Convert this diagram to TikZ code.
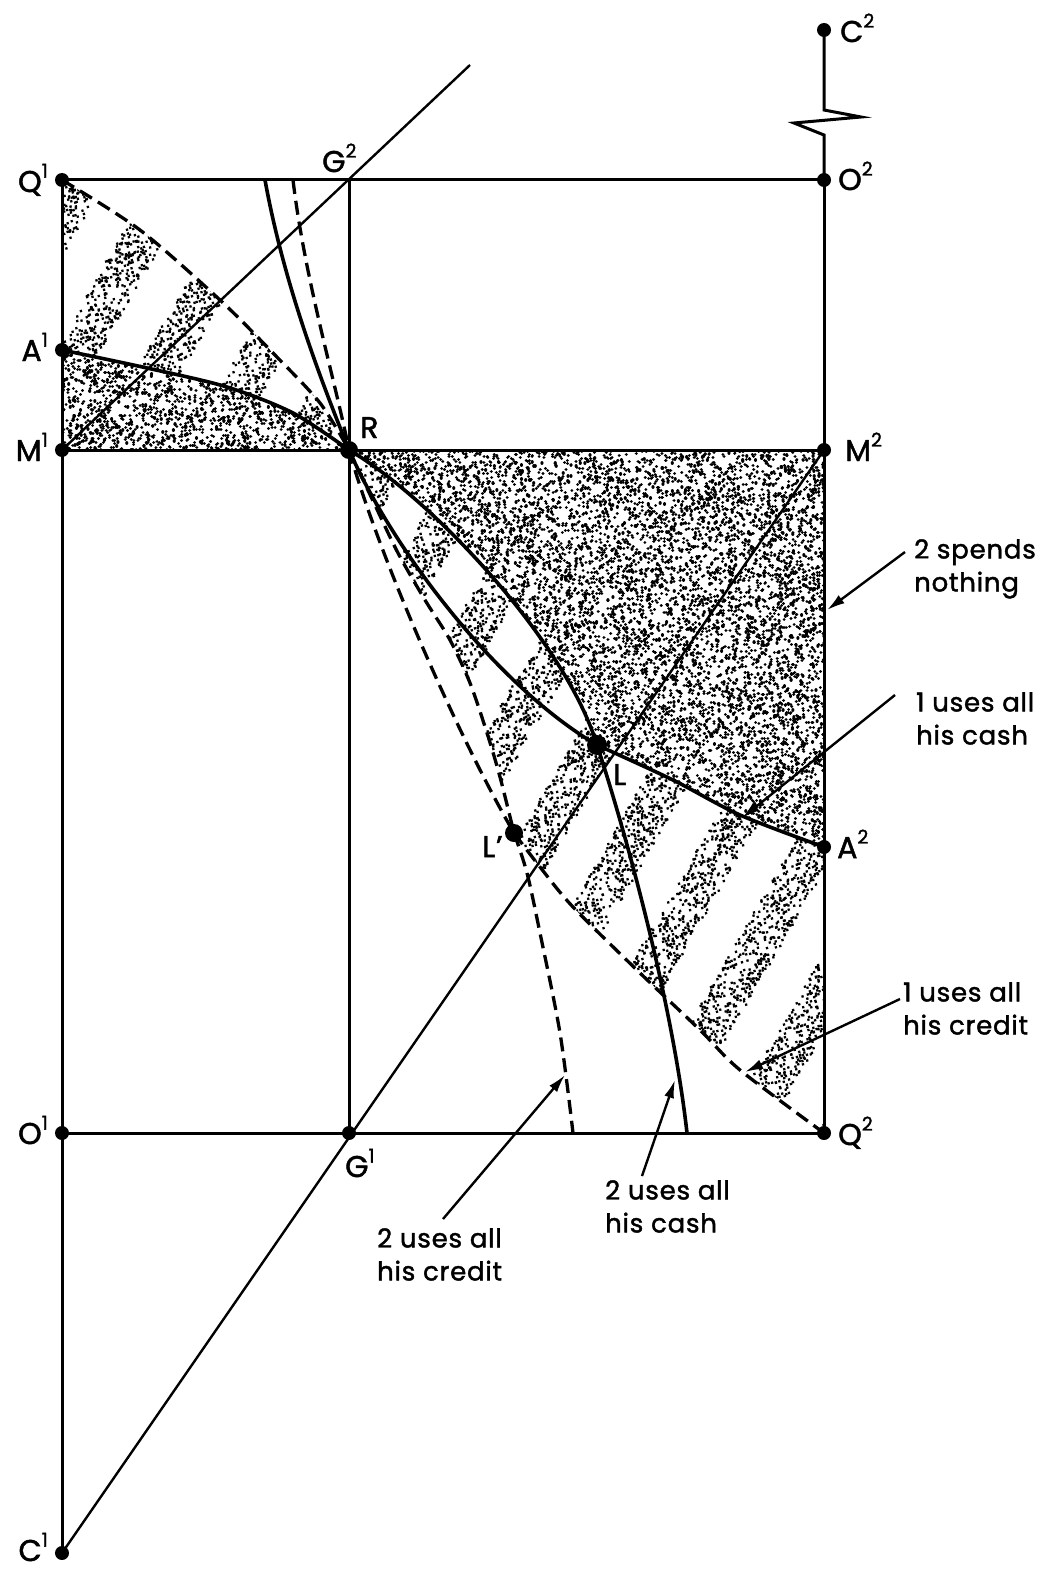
\documentclass[tikz,border=0pt]{standalone}
\usepackage{fontspec}
\setmainfont{Poppins}[FakeBold=1.6, LetterSpace=3]
\usetikzlibrary{arrows.meta}
\newcommand\up[1]{\raisebox{0.48em}{\fontsize{19}{19}\selectfont #1}}
% random dots in an axis-parallel rectangle (batches of 40)
\newcommand\stip[5]{\pgfmathtruncatemacro\nbatch{#5/40}%
  \foreach \j in {1,...,\nbatch}{\draw[dotty] \foreach \i in {1,...,40}{({#1+rnd*#3},{#2+rnd*#4}) -- ++(0.01,0)};}}
% random dots in the stripes, restricted to a box x0 x1 y0 y1
\newcommand\stripes[4]{%
  \begin{scope}[x={(0.5pt,0.866pt)}, y={(0.866pt,-0.5pt)}]
  \foreach \k in {0,...,15}{%
    \pgfmathsetmacro\cc{162+80.6*\k}%
    \pgfmathsetmacro\qa{max((#1-0.866*\cc)/0.5,(0.5*\cc-#4)/0.866)-34}%
    \pgfmathsetmacro\qb{min((#2-0.866*\cc)/0.5,(0.5*\cc-#3)/0.866)+34}%
    \pgfmathsetmacro\qw{\qb-\qa}%
    \pgfmathtruncatemacro\nb{max(0,\qw*0.0625)}%
    \ifnum\nb>0
      \foreach \j in {1,...,\nb}{\draw[dotty] \foreach \i in {1,...,40}{({\qa+rnd*\qw},{\cc-20+rnd*40}) -- ++(0.01,0)};}%
    \fi}
  \end{scope}}
\begin{document}
\begin{tikzpicture}[x=1pt,y=-1pt,
  box/.style={line width=3pt},
  diag/.style={line width=2.4pt},
  curve/.style={line width=3.6pt},
  dashcurve/.style={line width=3.3pt, dash pattern=on 14pt off 7pt},
  dotty/.style={line width=3.2pt, line cap=round},
  dot/.style={circle,fill,inner sep=0pt,minimum size=14pt},
  bigdot/.style={circle,fill,inner sep=0pt,minimum size=19pt},
  lab/.style={font=\fontsize{30}{32}\selectfont, inner sep=0pt},
  txt/.style={font=\fontsize{26}{33}\selectfont, align=left, inner sep=0pt, anchor=north west},
  ptr/.style={line width=2.4pt, -{Latex[length=18pt,width=10pt]}},
]
\fill[white] (0,0) rectangle (1047,1570);
\useasboundingbox (0,0) rectangle (1047,1570);
\pgfmathsetseed{4711}

% key points
\coordinate (pQ1) at (62,180);
\coordinate (pO2) at (824,180);
\coordinate (pG2) at (349,180);
\coordinate (pM1) at (62,450);
\coordinate (pR) at (349,450);
\coordinate (pM2) at (824,450);
\coordinate (pO1) at (62,1133);
\coordinate (pG1) at (349,1133);
\coordinate (pQ2) at (824,1133);
\coordinate (pC1) at (62,1553);
\coordinate (pC2) at (824,30);
\coordinate (pA1) at (62,350);
\coordinate (pA2) at (824,847);
\coordinate (pL) at (597,745);
\coordinate (pLp) at (514,833);
\coordinate (dend) at (470,65);

% ---------- stippling ----------
% upper-left dense
\begin{scope}
\clip (62,450) -- (62,350) -- plot[smooth] coordinates {(62,350) (147,368) (227,387) (293,413) (349,450)} -- cycle;
\stip{58}{345}{295}{110}{2000}
\end{scope}
% upper-left striped
\begin{scope}
\clip (62,350) -- (62,180) -- plot[smooth] coordinates {(62,180) (140,230) (220,300) (273,353) (320,403) (349,450)}
  -- plot[smooth] coordinates {(349,450) (293,413) (227,387) (147,368) (62,350)} -- cycle;
\stripes{62}{349}{180}{450}
\end{scope}
% lower-right dense
\begin{scope}
\clip (349,450) -- (824,450) -- (824,847)
  -- plot[smooth] coordinates {(824,847) (740,815) (673,780) (597,745)}
  .. controls (565,640) and (430,497) .. (349,450) -- cycle;
\stip{347}{448}{480}{402}{12000}
\end{scope}
% lower-right striped
\begin{scope}
\clip (349,450) .. controls (430,497) and (565,640) .. (597,745)
  -- plot[smooth] coordinates {(597,745) (673,780) (740,815) (824,847)} -- (824,1133)
  -- plot[smooth] coordinates {(824,1133) (740,1070) (700,1030) (640,973) (573,907) (540,867) (514,833)}
  -- plot[smooth] coordinates {(514,833) (500,777) (487,733) (470,683) (450,640) (425,600) (398,553) (374,503) (349,450)} -- cycle;
\stripes{349}{824}{450}{1133}
\end{scope}

% ---------- frame lines ----------
\draw[box] (pQ1) -- (pO2);
\draw[box] (pM1) -- (pM2);
\draw[box] (pO1) -- (pQ2);
\draw[box] (pQ1) -- (pC1);
\draw[box] (pO2) -- (pQ2);
\draw[box] (pG2) -- (pG1);
\draw[box, line join=miter] (pC2) -- (824,110) -- (861,117) -- (794,123) -- (824,135) -- (pO2);
\draw[diag] (pM1) -- (dend);
\draw[diag] (pC1) -- (pM2);

% ---------- solid curves ----------
% 1 uses all his cash
\draw[curve] plot[smooth] coordinates {(62,350) (147,368) (227,387) (293,413) (349,450)};
\draw[curve] (349,450) .. controls (392,548) and (495,685) .. (597,745);
\draw[curve] plot[smooth] coordinates {(597,745) (673,780) (740,815) (824,847)};
% 2 uses all his cash
\draw[curve] (265,180) .. controls (285,290) and (325,390) .. (349,450);
\draw[curve] (349,450) .. controls (430,497) and (565,640) .. (597,745);
\draw[curve] (597,745) .. controls (625,830) and (672,1000) .. (687,1133);

% ---------- dashed curves ----------
\draw[dashcurve] plot[smooth] coordinates {(62,180) (140,230) (220,300) (273,353) (320,403) (349,450)};
\draw[dashcurve] (293,180) .. controls (305,280) and (335,380) .. (349,450);
\draw[dashcurve] (349,450) .. controls (380,560) and (460,740) .. (514,833);
\draw[dashcurve] plot[smooth] coordinates {(349,450) (374,503) (398,553) (425,600) (450,640) (470,683) (487,733) (500,777) (514,833)};
\draw[dashcurve] plot[smooth] coordinates {(514,833) (540,867) (573,907) (640,973) (700,1030) (740,1070) (824,1133)};
\draw[dashcurve] plot[smooth] coordinates {(514,833) (527,873) (540,933) (560,1033) (573,1133)};

% ---------- pointers ----------
\coordinate (a1s) at (905,552); \coordinate (a1e) at (827,610);
\coordinate (a2s) at (895,695); \coordinate (a2e) at (742,818);
\coordinate (a3s) at (900,999); \coordinate (a3e) at (745,1072);
\coordinate (a4s) at (443,1219); \coordinate (a4e) at (565,1075);
\coordinate (a5s) at (642,1176); \coordinate (a5e) at (675,1080);
\draw[ptr] (a1s) -- (a1e);
\draw[ptr] (a2s) -- (a2e);
\draw[ptr] (a3s) -- (a3e);
\draw[ptr] (a4s) -- (a4e);
\draw[ptr] (a5s) -- (a5e);

% ---------- dots ----------
\node[dot] (Q1) at (pQ1) {};
\node[dot] (O2) at (pO2) {};
\node[dot] (M1) at (pM1) {};
\node[dot] (M2) at (pM2) {};
\node[dot] (O1) at (pO1) {};
\node[dot] (G1) at (pG1) {};
\node[dot] (Q2) at (pQ2) {};
\node[dot] (C1) at (pC1) {};
\node[dot] (C2) at (pC2) {};
\node[dot] (A1) at (pA1) {};
\node[dot] (A2) at (pA2) {};
\node[bigdot,minimum size=18pt] (R) at (pR) {};
\node[bigdot,minimum size=20pt] (L) at (pL) {};
\node[bigdot,minimum size=18pt] (Lp) at (pLp) {};

% ---------- labels ----------
\node[lab, anchor=base east] (lQ1) at (48,192) {Q\up{1}};
\node[lab, anchor=base east] (lA1) at (48,361) {A\up{1}};
\node[lab, anchor=base east] (lM1) at (48,461) {M\up{1}};
\node[lab, anchor=base east] (lO1) at (48,1144) {O\up{1}};
\node[lab, anchor=base east] (lC1) at (48,1561) {C\up{1}};
\node[lab, anchor=base west] (lG2) at (322,172) {G\up{2}};
\node[lab, anchor=base west] (lR) at (360,438) {R};
\node[lab, anchor=base west] (lO2) at (838,190) {O\up{2}};
\node[lab, anchor=base west] (lM2) at (845,461) {M\up{2}};
\node[lab, anchor=base west] (lC2) at (840,42) {C\up{2}};
\node[lab, anchor=base west] (lA2) at (837,858) {A\up{2}};
\node[lab, anchor=base west] (lQ2) at (838,1145) {Q\up{2}};
\node[lab, anchor=base west] (lG1) at (345,1177) {G\up{1}};
\node[lab, anchor=base west] (lL) at (613,785) {L};
\node[lab, anchor=base west] (lLp) at (482,857) {L\textquoteright};

\node[txt] (t1) at (914,539) {2 spends\\nothing};
\node[txt] (t2) at (916,692) {1 uses all\\his cash};
\node[txt] (t3) at (903,982) {1 uses all\\his credit};
\node[txt] (t4) at (377,1228) {2 uses all\\his credit};
\node[txt] (t5) at (605,1180) {2 uses all\\his cash};
\end{tikzpicture}
\end{document}
